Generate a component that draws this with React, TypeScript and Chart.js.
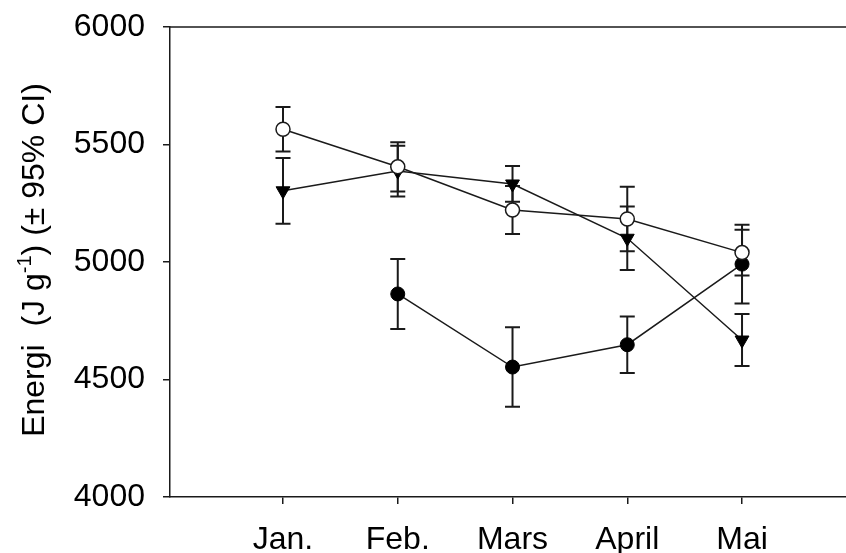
import React, { useEffect, useRef } from "react";
import { Chart, registerables } from "chart.js";

Chart.register(...registerables);

// ---- data ----
const months = ["Jan.", "Feb.", "Mars", "April", "Mai"];
const monthPos = [1, 2, 3, 4, 5];
const yTicks = [4000, 4500, 5000, 5500, 6000];

const openMean: (number | null)[] = [5565, 5405, 5221, 5183, 5040];
const openCI: (number | null)[] = [95, 105, 102, 137, 97];

const triMean: (number | null)[] = [5303, 5387, 5332, 5101, 4668];
const triCI: (number | null)[] = [140, 108, 76, 135, 111];

const filledMean: (number | null)[] = [null, 4864, 4553, 4648, 4991];
const filledCI: (number | null)[] = [null, 149, 169, 120, 168];

const titleMain = "Energi  (J g";
const titleSup = "-1";
const titleRest = ") (± 95% CI)";

const FONT = "'Liberation Sans', Arial, sans-serif";
const INK = "#1a1a1a";

function pts(mean: (number | null)[]) {
  const out: { x: number; y: number }[] = [];
  mean.forEach((v, i) => {
    if (v !== null) out.push({ x: monthPos[i], y: v });
  });
  return out;
}

const errorSets = [
  { mean: openMean, ci: openCI },
  { mean: triMean, ci: triCI },
  { mean: filledMean, ci: filledCI },
];

const errorBarPlugin = {
  id: "errorBars",
  beforeDatasetsDraw(chart: any) {
    const { ctx, scales } = chart;
    const xs = scales.x;
    const ys = scales.y;
    ctx.save();
    ctx.strokeStyle = INK;
    ctx.lineWidth = 2;
    errorSets.forEach((s) => {
      s.mean.forEach((v, i) => {
        const e = s.ci[i];
        if (v === null || e === null) return;
        const px = xs.getPixelForValue(monthPos[i]);
        const top = ys.getPixelForValue(v + e);
        const bot = ys.getPixelForValue(v - e);
        ctx.beginPath();
        ctx.moveTo(px, top);
        ctx.lineTo(px, bot);
        ctx.moveTo(px - 7.5, top);
        ctx.lineTo(px + 7.5, top);
        ctx.moveTo(px - 7.5, bot);
        ctx.lineTo(px + 7.5, bot);
        ctx.stroke();
      });
    });
    ctx.restore();
  },
  afterDraw(chart: any) {
    const { ctx, chartArea } = chart;
    ctx.save();
    // top frame line
    ctx.strokeStyle = INK;
    ctx.lineWidth = 1.5;
    ctx.beginPath();
    ctx.moveTo(chartArea.left, chartArea.top);
    ctx.lineTo(chartArea.right, chartArea.top);
    ctx.stroke();
    // y-axis title with superscript
    ctx.fillStyle = "#000";
    ctx.textBaseline = "alphabetic";
    ctx.textAlign = "left";
    const big = `32px ${FONT}`;
    const small = `20px ${FONT}`;
    ctx.font = big;
    const w1 = ctx.measureText(titleMain).width;
    const w3 = ctx.measureText(titleRest).width;
    ctx.font = small;
    const w2 = ctx.measureText(titleSup).width;
    const total = w1 + w2 + w3;
    ctx.translate(44, 260);
    ctx.rotate(-Math.PI / 2);
    let x = -total / 2;
    ctx.font = big;
    ctx.fillText(titleMain, x, 0);
    x += w1;
    ctx.font = small;
    ctx.fillText(titleSup, x, -13);
    x += w2;
    ctx.font = big;
    ctx.fillText(titleRest, x, 0);
    ctx.restore();
  },
};

export default function App() {
  const ref = useRef<HTMLCanvasElement | null>(null);

  useEffect(() => {
    if (!ref.current) return;
    const chart = new Chart(ref.current, {
      type: "line",
      data: {
        datasets: [
          {
            data: pts(openMean),
            borderColor: INK,
            borderWidth: 1.5,
            pointStyle: "circle",
            pointRadius: 7,
            pointBackgroundColor: "#ffffff",
            pointBorderColor: INK,
            pointBorderWidth: 1.5,
            fill: false,
            tension: 0,
          },
          {
            data: pts(triMean),
            borderColor: INK,
            borderWidth: 1.5,
            pointStyle: "triangle",
            rotation: 180,
            pointRadius: 8,
            pointBackgroundColor: "#000",
            pointBorderColor: "#000",
            pointBorderWidth: 1,
            fill: false,
            tension: 0,
          },
          {
            data: pts(filledMean),
            borderColor: INK,
            borderWidth: 1.5,
            pointStyle: "circle",
            pointRadius: 7,
            pointBackgroundColor: "#000",
            pointBorderColor: "#000",
            pointBorderWidth: 1,
            fill: false,
            tension: 0,
          },
        ],
      } as any,
      options: {
        animation: false,
        responsive: false,
        devicePixelRatio: 1,
        layout: { autoPadding: false, padding: { top: 27, left: 0, right: 0, bottom: 0 } },
        plugins: {
          legend: { display: false },
          tooltip: { enabled: false },
        },
        scales: {
          x: {
            type: "linear",
            min: 0.0153,
            max: 5.906,
            afterBuildTicks: (s: any) => {
              s.ticks = monthPos.map((v) => ({ value: v }));
            },
            afterFit: (s: any) => {
              s.height = 56;
              s.paddingLeft = 0;
              s.paddingRight = 0;
            },
            ticks: {
              autoSkip: false,
              maxRotation: 0,
              padding: 17,
              color: "#000",
              font: { family: FONT, size: 32 },
              callback: (v: any) => {
                const i = monthPos.indexOf(Number(v));
                return i >= 0 ? months[i] : "";
              },
            },
            grid: {
              drawOnChartArea: false,
              tickLength: 7,
              color: INK,
              lineWidth: 1.5,
            },
            border: { color: INK, width: 1.5 },
          },
          y: {
            type: "linear",
            min: 4000,
            max: 6000,
            afterBuildTicks: (s: any) => {
              s.ticks = yTicks.map((v) => ({ value: v }));
            },
            afterFit: (s: any) => {
              s.width = 170;
              s.paddingTop = 0;
              s.paddingBottom = 0;
            },
            ticks: {
              padding: 18,
              color: "#000",
              font: { family: FONT, size: 32 },
              callback: (v: any) => String(v),
            },
            grid: {
              drawOnChartArea: false,
              tickLength: 7,
              color: INK,
              lineWidth: 1.5,
            },
            border: { color: INK, width: 1.5 },
          },
        },
      } as any,
      plugins: [errorBarPlugin],
    });
    return () => chart.destroy();
  }, []);

  return (
    <div style={{ position: "absolute", left: 0, top: 0, width: 846, height: 553, background: "#fff" }}>
      <canvas ref={ref} width={846} height={553} style={{ display: "block" }} />
    </div>
  );
}
